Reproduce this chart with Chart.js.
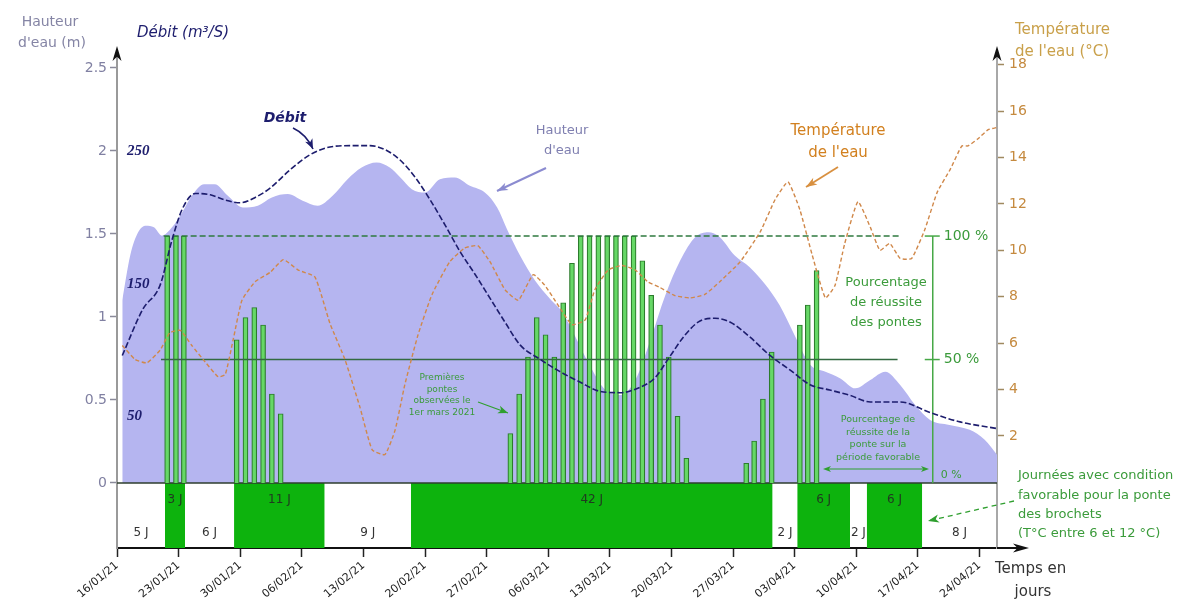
<!DOCTYPE html>
<html lang="fr">
<head>
<meta charset="utf-8">
<title>Ponte des brochets – hauteur, débit et température de l'eau</title>
<script src="https://cdn.jsdelivr.net/npm/chart.js@4.4.1/dist/chart.umd.min.js"></script>
<style>
  html, body { margin: 0; padding: 0; background: #ffffff; }
  #wrap { width: 1203px; height: 605px; position: relative; }
  canvas { display: block; }
</style>
</head>
<body>
<div id="wrap"><canvas id="chart" width="1203" height="605"></canvas></div>
<script>
// Time axis: days counted from 16/01/2021 (day 0)
const dateTickDays = [0, 7, 14, 21, 28, 35, 42, 49, 56, 63, 70, 77, 84, 91, 98];
const dateLabels = ["16/01/21", "23/01/21", "30/01/21", "06/02/21", "13/02/21", "20/02/21", "27/02/21",
                    "06/03/21", "13/03/21", "20/03/21", "27/03/21", "03/04/21", "10/04/21", "17/04/21", "24/04/21"];
const heightTicks = [0, 0.5, 1, 1.5, 2, 2.5];
const flowTicks = [50, 150, 250];
const tempTicks = [2, 4, 6, 8, 10, 12, 14, 16, 18];
const rateTicks = [0, 50, 100];

// Water height (m)
const levelDays = [0.6, 1.5, 2.4, 3.3, 4.2, 5.1, 6.25, 7.4, 8.5, 9.9, 11.1, 12.6, 14.3, 16.0, 17.6, 19.4, 21.1, 22.8,
  24.5, 26.2, 27.8, 29.5, 31.0, 32.2, 33.5, 35.0, 36.7, 38.4, 40.1, 41.8, 43.2, 44.4, 45.8, 47.5, 49.2, 50.6,
  52.0, 53.7, 55.5, 57.2, 58.9, 60.6, 62.3, 64.0, 65.7, 67.2, 68.5, 70.2, 71.9, 73.6, 75.3, 77.0, 78.8, 80.5,
  82.2, 83.9, 85.6, 87.3, 89.0, 90.7, 92.4, 94.6, 96.9, 98.6, 100];
const levelMeters = [1.10, 1.37, 1.51, 1.55, 1.54, 1.49, 1.54, 1.63, 1.73, 1.80, 1.80, 1.73, 1.66, 1.67, 1.72, 1.74, 1.70, 1.67,
  1.73, 1.83, 1.90, 1.93, 1.90, 1.84, 1.77, 1.75, 1.83, 1.84, 1.79, 1.75, 1.66, 1.52, 1.37, 1.22, 1.11, 1.03,
  0.89, 0.71, 0.56, 0.53, 0.62, 0.86, 1.13, 1.34, 1.48, 1.51, 1.48, 1.37, 1.30, 1.20, 1.07, 0.89, 0.71, 0.67,
  0.63, 0.57, 0.62, 0.67, 0.59, 0.47, 0.38, 0.35, 0.32, 0.26, 0.17];

// Flow (m3/s)
const flowDays = [0.6, 2.95, 4.9, 6.25, 7.4, 8.9, 10.6, 12.3, 14.0, 15.7, 17.4, 19.7, 21.9, 24.2, 26.5, 28.75, 30.45,
  32.2, 33.9, 35.6, 37.3, 39.0, 40.7, 42.4, 44.1, 45.8, 48.1, 50.3, 52.6, 54.9, 57.2, 59.4, 61.1, 62.8, 64.5,
  66.25, 67.95, 69.7, 71.9, 74.2, 76.5, 78.75, 81.0, 83.3, 85.6, 89.0, 92.4, 95.8, 100];
const flowValues = [96, 131, 149, 183, 206, 218, 217, 213, 211, 215, 222, 236, 247, 253, 254, 254, 251,
  243, 230, 213, 194, 174, 157, 139, 121, 104, 93, 84, 76, 69, 68, 72, 79, 95, 111,
  122, 124, 121, 110, 96, 85, 74, 70, 66, 61, 61, 53, 46, 41];

// Water temperature (°C)
const tempDays = [0.6, 2.05, 3.4, 4.9, 6.0, 7.2, 8.5, 10.0, 11.5, 12.3, 13.2, 14.2, 15.7, 17.4, 18.9, 20.6, 22.5, 24.2,
  25.9, 27.6, 29.0, 30.45, 31.6, 32.7, 34.2, 35.8, 37.8, 39.5, 41.0, 42.4, 44.1, 45.6, 47.3, 48.6, 50.1, 51.7,
  53.2, 54.3, 55.8, 57.4, 58.9, 60.3, 61.7, 63.4, 65.1, 66.8, 68.5, 70.8, 73.1, 74.8, 76.25, 77.6, 79.0, 80.5,
  81.6, 82.7, 84.2, 85.6, 86.7, 87.8, 89.0, 90.3, 91.8, 93.2, 94.7, 96.0, 96.7, 97.8, 99.0, 100];
const tempValues = [5.9, 5.3, 5.15, 5.7, 6.45, 6.55, 5.9, 5.2, 4.55, 4.65, 6.15, 7.85, 8.65, 9.05, 9.6, 9.15, 8.85, 6.85,
  5.3, 3.25, 1.4, 1.2, 2.25, 4.2, 6.35, 8.1, 9.5, 10.1, 10.2, 9.5, 8.3, 7.85, 8.95, 8.5, 7.65, 6.8,
  7.0, 8.3, 9.15, 9.35, 9.15, 8.65, 8.4, 8.05, 7.95, 8.1, 8.65, 9.5, 10.8, 12.2, 12.95, 11.75, 9.8, 7.95,
  8.5, 10.3, 12.1, 11.0, 10.0, 10.3, 9.65, 9.65, 10.9, 12.5, 13.5, 14.5, 14.5, 14.8, 15.2, 15.3];

// Spawning success (%) per day
const spawnDays = [5.7, 6.7, 7.6,
  13.6, 14.6, 15.6, 16.6, 17.6, 18.6,
  44.7, 45.7, 46.7, 47.7, 48.7, 49.7, 50.7, 51.7, 52.7, 53.7, 54.7, 55.7, 56.7, 57.7, 58.7, 59.7, 60.7, 61.7, 62.7, 63.7, 64.7,
  71.5, 72.4, 73.4, 74.4,
  77.6, 78.5, 79.5];
const spawnRate = [100, 100, 100,
  58, 67, 71, 64, 36, 28,
  20, 36, 51, 67, 60, 51, 73, 89, 100, 100, 100, 100, 100, 100, 100, 90, 76, 64, 51, 27, 10,
  8, 17, 34, 53,
  64, 72, 86];

// Periods with favourable temperature (6–12 °C) and the days in between
const goodStart = [5.45, 13.3, 33.4, 77.3, 85.2];
const goodEnd = [7.73, 23.6, 74.5, 83.3, 91.5];
const goodLabels = ["3 J", "11 J", "42 J", "6 J", "6 J"];
const badStart = [0, 7.73, 23.6, 74.5, 83.3, 91.5];
const badEnd = [5.45, 13.3, 33.4, 77.3, 85.2, 100];
const badLabels = ["5 J", "6 J", "9 J", "2 J", "2 J", "8 J"];

// Reference levels of the success scale
const rateLevelFull = 100;
const rateLevelHalf = 50;
const rateLineStart = 5.3;
const rateLineEnd = 88.9;
const rateAxisDay = 92.7;

// Scale ranges (shared vertical frame for the four value axes)
const H_MIN = -0.3916, H_MAX = 2.578;
const Q_MIN = H_MIN * 125, Q_MAX = H_MAX * 125;
const T_MIN = -2.828, T_MAX = 18.42;
const P_MIN = -26.3, P_MAX = 173.3;

const GREEN_TXT = '#3b9b3b';
const NAVY = '#1d1d6d';
const ORANGE = '#d2801f';

const zip = (xs, ys) => xs.map((x, i) => ({ x: x, y: ys[i] }));

const datasets = [];

datasets.push({
  type: 'line', label: "Hauteur d'eau", yAxisID: 'yH', order: 20,
  data: zip(levelDays, levelMeters),
  fill: 'origin', backgroundColor: '#b5b5f0', borderWidth: 0, pointRadius: 0,
  cubicInterpolationMode: 'monotone'
});

goodStart.forEach((s, i) => {
  datasets.push({
    type: 'line', label: 'Période favorable ' + (i + 1), yAxisID: 'yH', order: 19,
    data: [{ x: s, y: 0 }, { x: goodEnd[i], y: 0 }],
    fill: 'start', backgroundColor: '#0db30d', borderWidth: 0, pointRadius: 0
  });
});

datasets.push({
  type: 'line', label: 'Ligne zéro', yAxisID: 'yH', order: 18,
  data: [{ x: 0, y: 0 }, { x: 100, y: 0 }],
  borderColor: '#2e3e2e', borderWidth: 1.5, pointRadius: 0, fill: false
});

datasets.push({
  type: 'bar', label: 'Réussite des pontes', yAxisID: 'yP', order: 10,
  data: zip(spawnDays, spawnRate),
  barThickness: 5, backgroundColor: '#66d866', borderColor: '#2c7c2c',
  borderWidth: { left: 1.2, right: 1.2, top: 1, bottom: 0 }
});

datasets.push({
  type: 'line', label: '100 %', yAxisID: 'yP', order: 6,
  data: [{ x: rateLineStart, y: rateLevelFull }, { x: rateLineEnd, y: rateLevelFull }],
  borderColor: '#2f7a3f', borderWidth: 1.5, borderDash: [6, 3], pointRadius: 0, fill: false
});
datasets.push({
  type: 'line', label: '50 %', yAxisID: 'yP', order: 6,
  data: [{ x: rateLineStart - 0.3, y: rateLevelHalf }, { x: rateLineEnd - 0.2, y: rateLevelHalf }],
  borderColor: '#336a40', borderWidth: 1.5, pointRadius: 0, fill: false
});
datasets.push({
  type: 'line', label: 'Axe %', yAxisID: 'yP', order: 6,
  data: [{ x: rateAxisDay, y: 0 }, { x: rateAxisDay, y: rateLevelFull }],
  borderColor: '#46a846', borderWidth: 1.5, pointRadius: 0, fill: false
});

datasets.push({
  type: 'line', label: "Température de l'eau", yAxisID: 'yT', order: 4,
  data: zip(tempDays, tempValues),
  borderColor: '#d0884a', borderWidth: 1.4, borderDash: [4, 2.5], pointRadius: 0, fill: false, tension: 0.15
});

datasets.push({
  type: 'line', label: 'Débit', yAxisID: 'yQ', order: 2,
  data: zip(flowDays, flowValues),
  borderColor: NAVY, borderWidth: 1.6, borderDash: [6, 2.5], pointRadius: 0, fill: false,
  cubicInterpolationMode: 'monotone'
});

function setTicks(list) {
  return (scale) => { scale.ticks = list.map(v => ({ value: v })); };
}

function txt(ctx, s, x, y, o) {
  ctx.save();
  ctx.font = (o.style || 'normal') + ' ' + (o.weight || 'normal') + ' ' + (o.size || 13) + 'px ' + (o.family || '"DejaVu Sans"');
  ctx.fillStyle = o.color || '#222';
  ctx.textAlign = o.align || 'center';
  ctx.textBaseline = 'middle';
  ctx.fillText(s, x, y);
  ctx.restore();
}

function head(ctx, x, y, ang, len, wid, color) {
  ctx.save();
  ctx.translate(x, y);
  ctx.rotate(ang);
  ctx.beginPath();
  ctx.moveTo(0, 0);
  ctx.lineTo(-len, -wid / 2);
  ctx.lineTo(-len * 0.72, 0);
  ctx.lineTo(-len, wid / 2);
  ctx.closePath();
  ctx.fillStyle = color;
  ctx.fill();
  ctx.restore();
}

function arrow(ctx, pts, color, width, dash, headLen, headWid) {
  ctx.save();
  ctx.strokeStyle = color;
  ctx.lineWidth = width;
  ctx.setLineDash(dash || []);
  ctx.beginPath();
  ctx.moveTo(pts[0][0], pts[0][1]);
  if (pts.length === 3) {
    ctx.quadraticCurveTo(pts[1][0], pts[1][1], pts[2][0], pts[2][1]);
  } else {
    ctx.lineTo(pts[1][0], pts[1][1]);
  }
  ctx.stroke();
  ctx.restore();
  const a = pts[pts.length - 2], b = pts[pts.length - 1];
  head(ctx, b[0], b[1], Math.atan2(b[1] - a[1], b[0] - a[0]), headLen || 10, headWid || 7, color);
}

const decorations = {
  id: 'decorations',
  afterDatasetsDraw(chart) {
    const ctx = chart.ctx;
    const x = chart.scales.x;
    // Day counts inside the favourable / unfavourable periods
    goodLabels.forEach((l, i) => {
      txt(ctx, l, x.getPixelForValue((goodStart[i] + goodEnd[i]) / 2), 500, { size: 12, color: '#203a20' });
    });
    badLabels.forEach((l, i) => {
      txt(ctx, l, x.getPixelForValue((badStart[i] + badEnd[i]) / 2), 533, { size: 12, color: '#333' });
    });
  },
  afterDraw(chart) {
    const ctx = chart.ctx;
    const a = chart.chartArea;
    const yP = chart.scales.yP;
    const xs = chart.scales.x;

    // Axis arrows
    head(ctx, a.left, 46, -Math.PI / 2, 15, 9, '#111');
    head(ctx, a.right, 46, -Math.PI / 2, 15, 9, '#111');
    ctx.save();
    ctx.strokeStyle = '#111'; ctx.lineWidth = 2;
    ctx.beginPath(); ctx.moveTo(a.right, a.bottom); ctx.lineTo(1018, a.bottom); ctx.stroke();
    ctx.restore();
    head(ctx, 1029, a.bottom, 0, 16, 9, '#111');

    // Axis titles
    txt(ctx, 'Hauteur', 50, 22, { size: 14, color: '#8585a5' });
    txt(ctx, "d'eau (m)", 52, 43, { size: 14, color: '#8585a5' });
    txt(ctx, 'Débit (m³/S)', 137, 33, { size: 15, style: 'italic', color: NAVY, align: 'left' });
    txt(ctx, 'Température', 1015, 30, { size: 15, color: '#c9a04a', align: 'left' });
    txt(ctx, "de l'eau (°C)", 1015, 52, { size: 15, color: '#c9a04a', align: 'left' });
    txt(ctx, 'Temps en', 995, 569, { size: 15, color: '#333', align: 'left' });
    txt(ctx, 'jours', 1033, 592, { size: 15, color: '#333' });

    // Success-rate axis ticks and labels
    ctx.save();
    ctx.strokeStyle = '#46a846'; ctx.lineWidth = 1.5;
    const ax = xs.getPixelForValue(rateAxisDay);
    [rateLevelFull, rateLevelHalf].forEach(v => {
      const py = yP.getPixelForValue(v);
      ctx.beginPath(); ctx.moveTo(ax - 8, py); ctx.lineTo(ax + 7, py); ctx.stroke();
    });
    ctx.restore();
    rateTicks.forEach(v => {
      const small = v === 0;
      txt(ctx, v + ' %', ax + (small ? 8 : 11), yP.getPixelForValue(v) - (small ? 8 : 0),
          { size: small ? 11 : 14, color: GREEN_TXT, align: 'left' });
    });

    // Series annotations
    txt(ctx, 'Débit', 285, 118, { size: 14, style: 'italic', weight: 'bold', color: NAVY });
    arrow(ctx, [[293, 128], [306, 134], [313, 149]], NAVY, 1.6, null, 10, 8);

    txt(ctx, 'Hauteur', 562, 131, { size: 13, color: '#7f7fb0' });
    txt(ctx, "d'eau", 562, 151, { size: 13, color: '#7f7fb0' });
    arrow(ctx, [[546, 168], [497, 191]], '#8b8bd0', 2, null, 11, 8);

    txt(ctx, 'Température', 838, 131, { size: 15, color: ORANGE });
    txt(ctx, "de l'eau", 838, 153, { size: 15, color: ORANGE });
    arrow(ctx, [[838, 167], [806, 187]], '#d89040', 1.8, null, 11, 8);

    txt(ctx, 'Pourcentage', 886, 283, { size: 13, color: GREEN_TXT });
    txt(ctx, 'de réussite', 886, 303, { size: 13, color: GREEN_TXT });
    txt(ctx, 'des pontes', 886, 323, { size: 13, color: GREEN_TXT });

    ['Premières', 'pontes', 'observées le', '1er mars 2021'].forEach((l, i) => {
      txt(ctx, l, 442, 378 + i * 11.5, { size: 9, color: GREEN_TXT });
    });
    arrow(ctx, [[478, 402], [508, 413]], '#2f9f2f', 1.2, null, 10, 8);

    ['Pourcentage de', 'réussite de la', 'ponte sur la', 'période favorable'].forEach((l, i) => {
      txt(ctx, l, 878, 420 + i * 12.5, { size: 9.5, color: GREEN_TXT });
    });
    ctx.save();
    ctx.strokeStyle = '#2f9f2f'; ctx.lineWidth = 1.2;
    ctx.beginPath(); ctx.moveTo(826, 469); ctx.lineTo(926, 469); ctx.stroke();
    ctx.restore();
    head(ctx, 823, 469, Math.PI, 8, 6, '#2f9f2f');
    head(ctx, 929, 469, 0, 8, 6, '#2f9f2f');

    ['Journées avec condition', 'favorable pour la ponte', 'des brochets', '(T°C entre 6 et 12 °C)'].forEach((l, i) => {
      txt(ctx, l, 1018, 476 + i * 19.3, { size: 13, color: GREEN_TXT, align: 'left' });
    });
    arrow(ctx, [[1014, 501], [928, 521]], '#2f9f2f', 1.3, [5, 4], 11, 8);
  }
};

new Chart(document.getElementById('chart'), {
  type: 'line',
  data: { datasets: datasets },
  plugins: [decorations],
  options: {
    responsive: false,
    animation: false,
    devicePixelRatio: 1,
    layout: { padding: { top: 55, left: 0, right: 0, bottom: 0 } },
    font: { family: '"DejaVu Sans"' },
    plugins: { legend: { display: false }, tooltip: { enabled: false } },
    scales: {
      x: {
        type: 'linear', min: 0, max: 100, offset: false,
        afterBuildTicks: setTicks(dateTickDays),
        afterFit: (s) => { s.height = 57; },
        grid: { offset: false, drawOnChartArea: false, drawTicks: true, tickLength: 9, tickColor: '#222', tickWidth: 1.5 },
        border: { display: true, color: '#111', width: 2 },
        ticks: {
          autoSkip: false, minRotation: 40, maxRotation: 40, padding: 2,
          color: '#222', font: { family: '"DejaVu Sans"', size: 11 },
          callback: (v, i) => dateLabels[i]
        }
      },
      yH: {
        type: 'linear', position: 'left', weight: 2, min: H_MIN, max: H_MAX,
        afterBuildTicks: setTicks(heightTicks),
        afterFit: (s) => { s.width = 117; },
        grid: { drawOnChartArea: false, tickLength: 7, tickColor: '#8a8a9a', tickWidth: 1.5 },
        border: { display: true, color: '#9a9a9a', width: 2 },
        ticks: { padding: 3, color: '#8080a2', font: { family: '"DejaVu Sans"', size: 14 },
                 callback: (v) => String(v) }
      },
      yQ: {
        type: 'linear', position: 'left', weight: 1, min: Q_MIN, max: Q_MAX,
        afterBuildTicks: setTicks(flowTicks),
        afterFit: (s) => { s.width = 0; },
        grid: { display: false },
        border: { display: false },
        ticks: { mirror: true, padding: 10, z: 1, color: NAVY,
                 font: { family: '"Liberation Serif"', size: 15, style: 'italic', weight: 'bold' },
                 callback: (v) => String(v) }
      },
      yT: {
        type: 'linear', position: 'right', min: T_MIN, max: T_MAX,
        afterBuildTicks: setTicks(tempTicks),
        afterFit: (s) => { s.width = 206; },
        grid: { drawOnChartArea: false, tickLength: 7, tickColor: '#a08a60', tickWidth: 1.5 },
        border: { display: true, color: '#a8a8a8', width: 2 },
        ticks: { padding: 5, color: '#c58a3f', font: { family: '"DejaVu Sans"', size: 14 },
                 callback: (v) => String(v) }
      },
      yP: {
        type: 'linear', display: false, min: P_MIN, max: P_MAX
      }
    }
  }
});
</script>
</body>
</html>
